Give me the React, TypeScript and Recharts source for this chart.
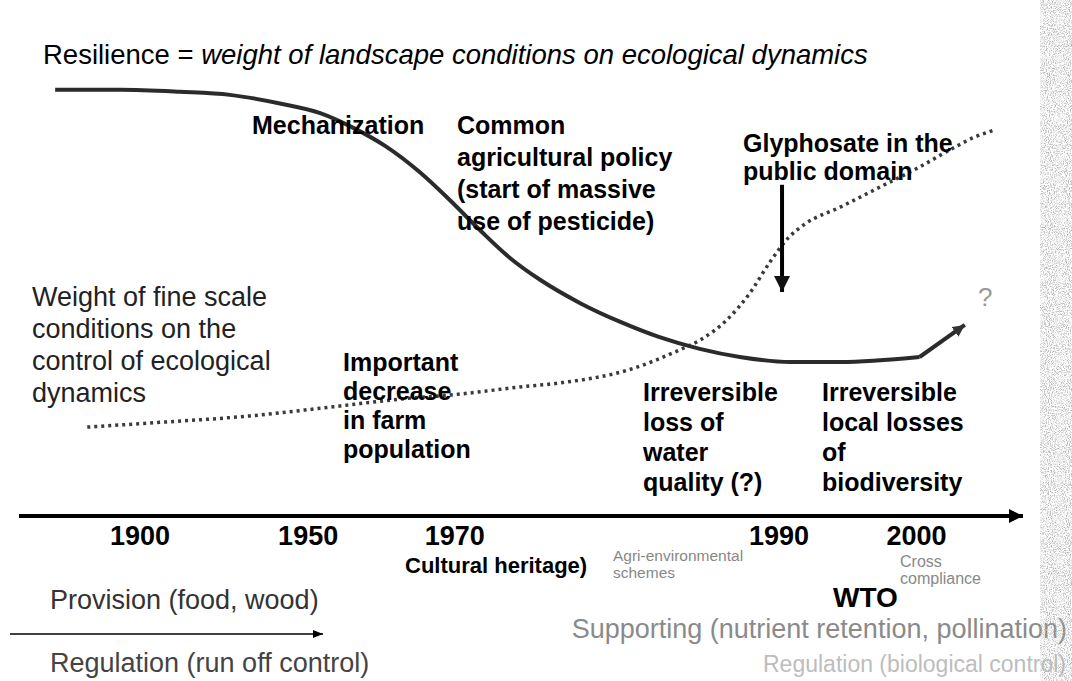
import { ComposedChart, Line, XAxis, YAxis } from "recharts";

// positions along the (non-linear) time axis, 0..100 of plot width
const tickPos = [12.05, 28.8, 43.4, 75.7, 89.4];
const tickYears = ["1900", "1950", "1970", "1990", "2000"];

// resilience curve (solid)
const resilienceX = [3.6, 10.1, 16.0, 21.0, 26.0, 30.0, 33.3, 36.5, 39.9, 42.9, 45.9, 48.9, 51.9, 55.9, 59.9, 63.8, 67.8, 71.8, 76.8, 81.8, 89.7];
const resilienceY = [83.9, 83.9, 83.5, 82.9, 81.2, 79.3, 76.4, 72.8, 67.7, 62.2, 56.3, 50.8, 46.5, 41.9, 38.2, 35.2, 32.9, 31.3, 30.3, 30.3, 31.3];
// the "?" upturn at the end
const tailX = [89.7, 94.2];
const tailY = [31.3, 37.6];

// weight of fine scale conditions (dotted)
const fineX = [6.8, 13.0, 23.0, 31.3, 37.9, 43.9, 49.9, 53.9, 60.6, 65.8, 67.8, 70.5, 72.8, 74.8, 76.6, 78.3, 81.8, 85.8, 89.7, 93.2, 95.2, 97.2];
const fineY = [17.5, 18.3, 19.7, 21.5, 23.0, 24.0, 25.4, 26.2, 28.7, 32.7, 34.6, 38.6, 43.9, 50.0, 54.7, 57.5, 60.8, 64.8, 68.7, 72.6, 74.6, 76.0];

// glyphosate arrow
const glyphX = [76.0, 76.0];
const glyphY = [65.2, 44.1];

const toPoints = (xs: number[], ys: number[]) => xs.map((x, i) => ({ x, y: ys[i] }));

const FONT = "'Liberation Sans', Arial, Helvetica, sans-serif";

function Label({
  left,
  right,
  top,
  lines,
  size = 25,
  weight = 700,
  color = "#000",
  lh = 30
}: {
  left?: number;
  right?: number;
  top: number;
  lines: string[];
  size?: number;
  weight?: number;
  color?: string;
  lh?: number;
}) {
  return (
    <div
      style={{
        position: "absolute",
        left,
        right,
        top,
        fontSize: size,
        fontWeight: weight,
        color,
        lineHeight: lh + "px",
        whiteSpace: "pre",
        fontFamily: FONT
      }}
    >
      {lines.join("\n")}
    </div>
  );
}

export default function App() {
  return (
    <div
      style={{
        position: "absolute",
        left: 0,
        top: 0,
        width: 1072,
        height: 681,
        background: "#fff",
        overflow: "hidden"
      }}
    >
      <ComposedChart
        width={1072}
        height={681}
        margin={{ top: 8, right: 49, bottom: 125, left: 19 }}
      >
        <defs>
          <marker id="axisArrow" viewBox="0 0 14 14" refX="14" refY="7" markerWidth="14" markerHeight="14" markerUnits="userSpaceOnUse" orient="auto-start-reverse">
            <path d="M0,0 L14,7 L0,14 z" fill="#000" />
          </marker>
          <marker id="bigArrow" viewBox="0 0 16 16" refX="16" refY="8" markerWidth="16" markerHeight="16" markerUnits="userSpaceOnUse" orient="auto">
            <path d="M0,0 L16,8 L0,16 z" fill="#111" />
          </marker>
          <marker id="tailArrow" viewBox="0 0 12 12" refX="12" refY="6" markerWidth="12" markerHeight="12" markerUnits="userSpaceOnUse" orient="auto">
            <path d="M0,0 L12,6 L0,12 z" fill="#333" />
          </marker>
        </defs>

        <XAxis
          type="number"
          dataKey="x"
          domain={[0, 100]}
          ticks={tickPos}
          interval={0}
          tickFormatter={(v: number) => tickYears[tickPos.indexOf(v)]}
          tickLine={false}
          tickMargin={4}
          height={40}
          axisLine={{ stroke: "#000", strokeWidth: 4, markerEnd: "url(#axisArrow)" }}
          tick={{ fontSize: 27, fontWeight: 700, fill: "#000", fontFamily: FONT }}
          allowDataOverflow
        />
        <YAxis
          type="number"
          dataKey="y"
          domain={[0, 100]}
          width={0}
          tick={false}
          tickLine={false}
          axisLine={{ stroke: "#000", strokeWidth: 4, markerStart: "url(#axisArrow)" }}
          allowDataOverflow
        />

        <Line
          data={toPoints(fineX, fineY)}
          dataKey="y"
          type="monotone"
          stroke="#3a3a3a"
          strokeWidth={3.5}
          strokeDasharray="3 4"
          dot={false}
          activeDot={false}
          isAnimationActive={false}
        />
        <Line
          data={toPoints(resilienceX, resilienceY)}
          dataKey="y"
          type="monotone"
          stroke="#2b2b2b"
          strokeWidth={4}
          dot={false}
          activeDot={false}
          isAnimationActive={false}
        />
        <Line
          data={toPoints(tailX, tailY)}
          dataKey="y"
          type="linear"
          stroke="#2b2b2b"
          strokeWidth={4}
          markerEnd="url(#tailArrow)"
          dot={false}
          activeDot={false}
          isAnimationActive={false}
        />
        <Line
          data={toPoints(glyphX, glyphY)}
          dataKey="y"
          type="linear"
          stroke="#000"
          strokeWidth={4}
          markerEnd="url(#bigArrow)"
          dot={false}
          activeDot={false}
          isAnimationActive={false}
        />
      </ComposedChart>

      {/* title */}
      <div
        style={{
          position: "absolute",
          left: 43,
          top: 39,
          fontSize: 27.5,
          lineHeight: "32px",
          fontFamily: FONT,
          color: "#000",
          whiteSpace: "pre"
        }}
      >
        {"Resilience = "}
        <i>weight of landscape conditions on ecological dynamics</i>
      </div>

      <Label left={252} top={110} lines={["Mechanization"]} />
      <Label left={457} top={109} lh={32} lines={["Common", "agricultural policy", "(start of massive", "use of pesticide)"]} />
      <Label left={743} top={129} lh={28} lines={["Glyphosate in the", "public domain"]} />
      <Label left={32} top={281} lh={32} size={27} weight={400} color="#222" lines={["Weight of fine scale", "conditions on the", "control of ecological", "dynamics"]} />
      <Label left={343} top={348} lh={29} lines={["Important", "decrease", "in farm", "population"]} />
      <Label left={643} top={377} lh={30} lines={["Irreversible", "loss of", "water", "quality (?)"]} />
      <Label left={822} top={377} lh={30} lines={["Irreversible", "local losses", "of", "biodiversity"]} />
      <Label left={978} top={282} size={26} weight={400} color="#999" lines={["?"]} />

      <Label left={405} top={554} size={22} lh={24} lines={["Cultural heritage)"]} />
      <Label left={613} top={547} size={15.5} lh={17} weight={400} color="#888" lines={["Agri-environmental", "schemes"]} />
      <Label left={900} top={553} size={16} lh={17} weight={400} color="#888" lines={["Cross", "compliance"]} />
      <Label left={833} top={583} size={28} lines={["WTO"]} />
      <Label right={5} top={614} size={27} weight={400} color="#8a8a8a" lines={["Supporting (nutrient retention, pollination)"]} />
      <Label right={6} top={649} size={23} weight={400} color="#bdbdbd" lines={["Regulation (biological control)"]} />
      <Label left={50} top={585} size={27} weight={400} color="#333" lines={["Provision (food, wood)"]} />
      <Label left={50} top={648} size={27} weight={400} color="#444" lines={["Regulation (run off control)"]} />

      {/* small arrow between the service labels, and the scanned paper edge */}
      <svg style={{ position: "absolute", left: 0, top: 0 }} width={1072} height={681} pointerEvents="none">
        <defs>
          <marker id="thinArrow" viewBox="0 0 10 8" refX="10" refY="4" markerWidth="10" markerHeight="8" markerUnits="userSpaceOnUse" orient="auto">
            <path d="M0,0 L10,4 L0,8 z" fill="#000" />
          </marker>
          <filter id="paper" x="0" y="0" width="100%" height="100%">
            <feTurbulence type="fractalNoise" baseFrequency="0.95" numOctaves="2" seed="4" />
            <feColorMatrix type="matrix" values="0 0 0 0 0.45  0 0 0 0 0.45  0 0 0 0 0.45  3 0 0 0 -1.3" />
          </filter>
        </defs>
        <line x1={10} y1={634} x2={323} y2={634} stroke="#000" strokeWidth={1.5} markerEnd="url(#thinArrow)" />
        <rect x={1040} y={0} width={32} height={681} filter="url(#paper)" />
      </svg>
    </div>
  );
}
